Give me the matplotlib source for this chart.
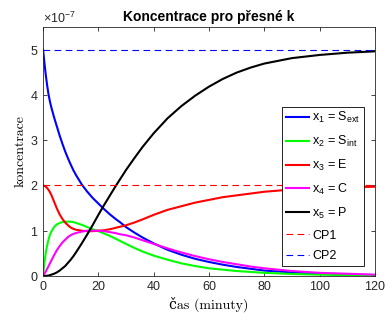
import numpy as np
import matplotlib
matplotlib.use("Agg")
import matplotlib.pyplot as plt
from matplotlib.ticker import ScalarFormatter

plt.rcParams['font.family'] = ['Liberation Sans', 'DejaVu Sans']
plt.rcParams['mathtext.default'] = 'regular'

# cas v minutach
t = [0, 0.5, 1, 1.5, 2, 2.5, 3, 4, 5, 6, 7, 8, 9, 10, 11, 12, 14, 16, 18, 20,
     22, 24, 26, 28, 30, 33, 36, 40, 45, 50, 55, 60, 65, 70, 75, 80, 90, 100, 110, 120]
# koncentrace (x 1e-7)
s_ext = [5.0, 4.7, 4.43, 4.2, 4.0, 3.85, 3.72, 3.5, 3.3, 3.1, 2.92, 2.75, 2.6, 2.46,
         2.33, 2.22, 2.02, 1.86, 1.72, 1.6, 1.48, 1.37, 1.27, 1.18, 1.08, 0.96, 0.85,
         0.72, 0.58, 0.47, 0.38, 0.31, 0.25, 0.2, 0.16, 0.12, 0.08, 0.05, 0.03, 0.02]
s_int = [0.0, 0.3, 0.52, 0.68, 0.81, 0.91, 0.98, 1.08, 1.14, 1.17, 1.19, 1.2, 1.2, 1.2,
         1.19, 1.17, 1.13, 1.08, 1.03, 0.99, 0.94, 0.89, 0.83, 0.77, 0.71, 0.62, 0.54,
         0.45, 0.36, 0.28, 0.22, 0.17, 0.14, 0.11, 0.09, 0.07, 0.045, 0.03, 0.02, 0.015]
enz = [2.0, 1.99, 1.97, 1.94, 1.9, 1.85, 1.79, 1.64, 1.49, 1.36, 1.26, 1.18, 1.12, 1.07,
       1.04, 1.02, 1.0, 0.99, 0.99, 1.0, 1.01, 1.03, 1.06, 1.09, 1.12, 1.18, 1.25,
       1.35, 1.46, 1.54, 1.62, 1.68, 1.74, 1.78, 1.82, 1.86, 1.91, 1.94, 1.96, 1.97]
kompl = [0.0, 0.05, 0.1, 0.16, 0.22, 0.28, 0.34, 0.46, 0.57, 0.66, 0.74, 0.8, 0.86, 0.9,
         0.93, 0.95, 0.98, 1.0, 1.0, 1.0, 0.99, 0.97, 0.95, 0.92, 0.9, 0.85, 0.79,
         0.71, 0.61, 0.52, 0.44, 0.37, 0.31, 0.26, 0.21, 0.17, 0.11, 0.07, 0.05, 0.03]
prod = [0.0, 0.0, 0.003, 0.006, 0.01, 0.02, 0.03, 0.05, 0.08, 0.12, 0.17, 0.22, 0.29, 0.36,
        0.44, 0.53, 0.72, 0.92, 1.13, 1.35, 1.56, 1.76, 1.96, 2.15, 2.34, 2.6, 2.85,
        3.15, 3.48, 3.75, 3.98, 4.18, 4.35, 4.49, 4.6, 4.69, 4.81, 4.88, 4.93, 4.96]
cp1 = 2.0
cp2 = 5.0

serie = [(s_ext, '#0000ff', r'x$_1$ = S$_{ext}$'),
         (s_int, '#00ff00', r'x$_2$ = S$_{int}$'),
         (enz, '#ff0000', r'x$_3$ = E'),
         (kompl, '#ff00ff', r'x$_4$ = C'),
         (prod, '#000000', r'x$_5$ = P')]

fig = plt.figure(figsize=(3.88, 3.2), dpi=100)
ax = fig.add_axes([0.111, 0.1375, 0.855, 0.7785])

for y, c, lab in serie:
    ax.plot(t, np.array(y) * 1e-7, color=c, lw=1.5, label=lab)
ax.axhline(cp1 * 1e-7, color='#ff0000', lw=0.8, ls=(0, (6, 4)), label='CP1')
ax.axhline(cp2 * 1e-7, color='#0000ff', lw=0.8, ls=(0, (6, 4)), label='CP2')

ax.set_xlim(0, 120)
ax.set_ylim(0, 5.5e-7)
ax.set_xticks(np.arange(0, 121, 20))
ax.set_yticks(np.arange(0, 6) * 1e-7)
fmt = ScalarFormatter(useMathText=True)
fmt.set_powerlimits((0, 0))
ax.yaxis.set_major_formatter(fmt)
ax.yaxis.get_offset_text().set_fontsize(9)

ax.tick_params(direction='in', top=True, right=True, labelsize=9,
               colors='#262626', length=3, width=0.6)
for s in ax.spines.values():
    s.set_color('#262626')
    s.set_linewidth(0.6)

ax.set_title('Koncentrace pro přesné k', fontsize=10, fontweight='bold', pad=4)
ax.set_xlabel('čas (minuty)', family=['cmr10', 'DejaVu Serif'], fontsize=10, labelpad=3)
ax.set_ylabel('koncentrace', family=['cmr10', 'DejaVu Serif'], fontsize=10, labelpad=2)

leg = ax.legend(loc='lower right', bbox_to_anchor=(0.9675, 0.04), fontsize=9,
                fancybox=False, edgecolor='k', framealpha=1, handlelength=1.8,
                handletextpad=0.3, borderpad=0.3, labelspacing=0.7, borderaxespad=0)
leg.get_frame().set_linewidth(0.6)

fig.savefig('out.png', dpi=100)
